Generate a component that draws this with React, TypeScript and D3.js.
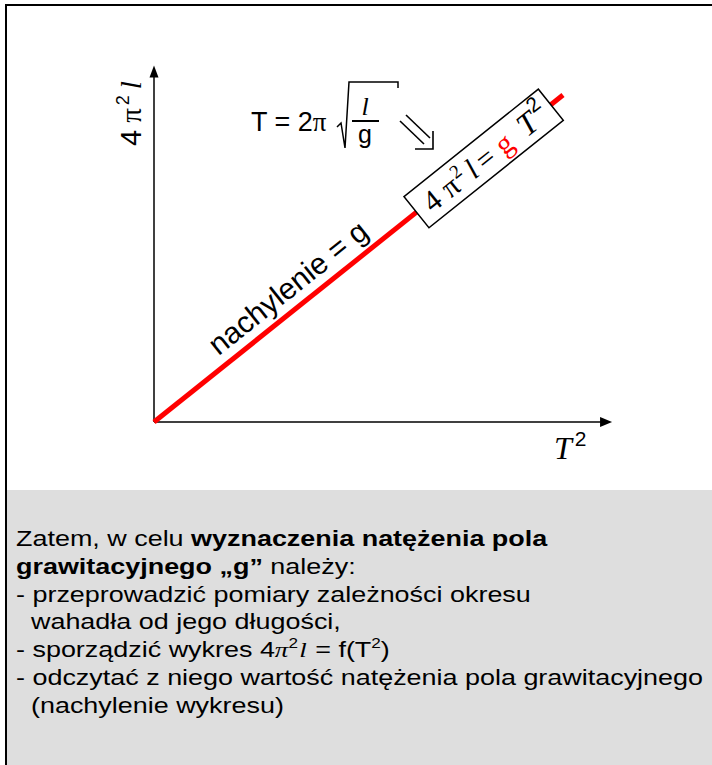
import React from 'react';
import * as d3 from 'd3';

// schematic data: 4π²l grows linearly with T² (slope = g), normalised units
const periodSquared = [0, 1];
const fourPiSqLength = [0, 1];
const axisReach = { x: 1.12, y: 1.09 };
const boxAt = 0.806; // where the formula box sits along the line
const labelAt = 0.36; // where "nachylenie = g" sits along the line

const textLines = [
  [{ t: 'Zatem, w celu ', b: false }, { t: 'wyznaczenia natężenia pola', b: true }],
  [{ t: 'grawitacyjnego „g”', b: true }, { t: ' należy:', b: false }],
  [{ t: '- przeprowadzić pomiary zależności okresu', b: false }],
  [{ t: '  wahadła od jego długości,', b: false }],
  [{ t: 'FORMULA', b: false }],
  [{ t: '- odczytać z niego wartość natężenia pola grawitacyjnego', b: false }],
  [{ t: '  (nachylenie wykresu)', b: false }],
];

const SANS = '"Liberation Sans", Arial, sans-serif';
const SERIF = '"Liberation Serif", "Times New Roman", serif';

export default function App() {
  const width = 712,
    height = 765;

  const x = d3.scaleLinear().domain([0, 1]).range([154, 563]);
  const y = d3.scaleLinear().domain([0, 1]).range([422, 95]);

  const linePath = d3
    .line<number>()
    .x((d) => x(d))
    .y((d, i) => y(fourPiSqLength[i]))(periodSquared);

  const angle =
    (Math.atan2(y(1) - y(0), x(1) - x(0)) * 180) / Math.PI;

  const x0 = x(0),
    y0 = y(0);
  const xEnd = x(axisReach.x),
    yEnd = y(axisReach.y);

  const bx = x(boxAt),
    by = y(boxAt);
  const lx = x(labelAt),
    ly = y(labelAt);

  return (
    <svg
      width={width}
      height={height}
      style={{ position: 'absolute', left: 0, top: 0 }}
    >
      <rect x={0} y={0} width={width} height={height} fill="#fff" />
      {/* lower grey panel */}
      <rect x={7} y={490} width={width} height={height} fill="#dedede" />
      {/* outer frame (runs off the right and bottom) */}
      <rect
        x={6}
        y={5}
        width={width + 20}
        height={height + 20}
        fill="none"
        stroke="#000"
        strokeWidth={2}
      />

      {/* axes */}
      <line x1={x0} y1={y0} x2={x0} y2={yEnd + 10} stroke="#000" strokeWidth={1.5} />
      <path d={`M${x0},${yEnd} L${x0 - 4.5},${yEnd + 12} L${x0 + 4.5},${yEnd + 12} Z`} fill="#000" />
      <line x1={x0} y1={y0} x2={xEnd - 10} y2={y0} stroke="#000" strokeWidth={1.5} />
      <path d={`M${xEnd},${y0} L${xEnd - 12},${y0 - 5} L${xEnd - 12},${y0 + 5} Z`} fill="#000" />

      {/* y label */}
      <text
        transform={`translate(141,146) rotate(-90)`}
        fontSize={29}
        fontFamily={SANS}
      >
        4
        <tspan fontFamily={SERIF} dx={7}>π</tspan>
        <tspan fontSize={18} dx={3} dy={-12}>2</tspan>
        <tspan fontFamily={SERIF} fontStyle="italic" dx={6} dy={12}>l</tspan>
      </text>

      {/* x label */}
      <text x={554} y={459} fontFamily={SERIF} fontStyle="italic" fontSize={32}>
        T
        <tspan fontFamily={SANS} fontStyle="normal" fontSize={21} dx={3} dy={-13}>2</tspan>
      </text>

      {/* the line */}
      <path d={linePath ?? ''} stroke="#ff0000" strokeWidth={5} fill="none" />

      {/* slope label */}
      <text
        transform={`translate(${lx},${ly}) rotate(${angle})`}
        y={-11}
        textAnchor="middle"
        fontFamily={SANS}
        fontSize={30}
      >
        nachylenie = g
      </text>

      {/* pendulum formula */}
      <text x={251} y={131} fontFamily={SANS} fontSize={27}>
        T = 2
        <tspan fontFamily={SERIF}>π</tspan>
      </text>
      <path
        d="M337,127 L341,123 L345,148 L349,82 L398,82 L398,88"
        fill="none"
        stroke="#000"
        strokeWidth={1.5}
      />
      <text x={365} y={115} textAnchor="middle" fontFamily={SERIF} fontStyle="italic" fontSize={26}>
        l
      </text>
      <line x1={352} y1={121} x2={379} y2={121} stroke="#000" strokeWidth={2} />
      <text x={365} y={143} textAnchor="middle" fontFamily={SANS} fontSize={25}>
        g
      </text>

      {/* double arrow */}
      <g fill="none" stroke="#000" strokeWidth={1.6}>
        <line x1={400} y1={121} x2={424} y2={144} />
        <line x1={406} y1={115} x2={430} y2={138} />
        <path d="M415,149 L433,149 L433,131" />
      </g>

      {/* formula box on the line */}
      <g transform={`translate(${bx},${by}) rotate(${angle})`}>
        <rect x={-86} y={-20} width={172} height={40} fill="#fff" stroke="#000" strokeWidth={1.5} />
        <text x={2} y={11} textAnchor="middle" fontFamily={SERIF} fontSize={30}>
          4
          <tspan dx={8}>π</tspan>
          <tspan fontSize={19} dx={1} dy={-12}>2</tspan>
          <tspan fontStyle="italic" dx={5} dy={12}>l</tspan>
          <tspan dx={5}>=</tspan>
          <tspan fill="#ff0000" dx={8}>g</tspan>
          <tspan fontStyle="italic" dx={14} fontSize={32}>T</tspan>
          <tspan fontFamily={SANS} fontSize={21} dx={2} dy={-15}>2</tspan>
        </text>
      </g>

      {/* explanation text (the original is stretched horizontally) */}
      <g transform="translate(16,0) scale(1.225,1)">
        {textLines.map((segs, i) => {
          const yy = 546 + i * 27.8;
          if (segs[0].t === 'FORMULA') {
            return (
              <text key={i} x={0} y={yy} fontFamily={SANS} fontSize={22} style={{ whiteSpace: 'pre' }}>
                - sporządzić wykres 4
                <tspan fontFamily={SERIF} fontStyle="italic">π</tspan>
                <tspan fontSize={14} dy={-9}>2</tspan>
                <tspan fontFamily={SERIF} fontStyle="italic" dy={9} dx={1}>l</tspan>
                <tspan dx={7}>= f(T</tspan>
                <tspan fontSize={14} dy={-9}>2</tspan>
                <tspan dy={9}>)</tspan>
              </text>
            );
          }
          return (
            <text key={i} x={0} y={yy} fontFamily={SANS} fontSize={22} style={{ whiteSpace: 'pre' }}>
              {segs.map((s, j) => (
                <tspan key={j} fontWeight={s.b ? 'bold' : 'normal'}>
                  {s.t}
                </tspan>
              ))}
            </text>
          );
        })}
      </g>
    </svg>
  );
}
